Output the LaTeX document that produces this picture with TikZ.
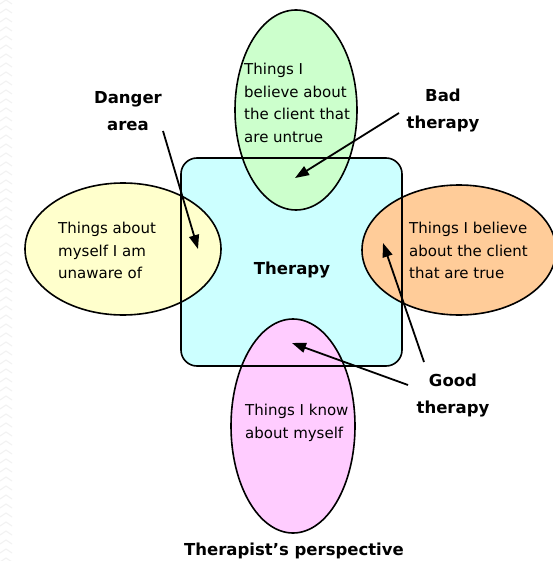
\documentclass[tikz,border=0pt]{standalone}
\usepackage{fontspec}
\setmainfont{DejaVu Sans}
\usetikzlibrary{shapes.geometric,arrows.meta}
\definecolor{boxcyan}{HTML}{CCFFFF}
\definecolor{ovgreen}{HTML}{CCFFCC}
\definecolor{ovyellow}{HTML}{FFFFCC}
\definecolor{ovorange}{HTML}{FFCC99}
\definecolor{ovpink}{HTML}{FFCCFF}
\begin{document}
\begin{tikzpicture}[x=1pt,y=-1pt,
  outline/.style={draw=black,line width=1.6pt},
  lbl/.style={font=\fontsize{15}{22.5}\selectfont,align=left,inner sep=0pt,anchor=north west},
  hdr/.style={font=\fontsize{16.5}{27}\selectfont\bfseries,align=center,inner sep=0pt},
  pointer/.style={line width=1.8pt,-{Triangle[length=14pt,width=10pt]}}]
\useasboundingbox (0,0) rectangle (552,561);
\fill[white] (0,0) rectangle (552,561);
% faint zigzag at left edge
\foreach \k in {0,...,62} {
  \draw[black!5,line width=1pt] (0,{9*\k+4}) -- (6,{9*\k}) -- (12,{9*\k+4});
}
% fills
\fill[boxcyan,rounded corners=16pt] (181,158) rectangle (402,366);
\fill[ovgreen] (296,110) ellipse [x radius=61pt, y radius=100pt];
\fill[ovyellow] (123,249) ellipse [x radius=98pt, y radius=66pt];
\fill[ovorange] (459,250) ellipse [x radius=97pt, y radius=65pt];
\fill[ovpink] (293,426) ellipse [x radius=62pt, y radius=107pt];
% outlines
\draw[outline,rounded corners=16pt] (181,158) rectangle (402,366);
\draw[outline] (296,110) ellipse [x radius=61pt, y radius=100pt];
\draw[outline] (123,249) ellipse [x radius=98pt, y radius=66pt];
\draw[outline] (459,250) ellipse [x radius=97pt, y radius=65pt];
\draw[outline] (293,426) ellipse [x radius=62pt, y radius=107pt];
% texts in ovals
\node[lbl] (untrue) at (244,63) {Things I\\believe about\\the client that\\are untrue};
\node[lbl] (unaware) at (58,222) {Things about\\myself I am\\unaware of};
\node[lbl] (truebel) at (409,222) {Things I believe\\about the client\\that are true};
\node[lbl] (know) at (245,404) {Things I know\\about myself};
% bold labels
\node[hdr,anchor=north] (danger) at (128,91) {Danger\\area};
\node[hdr,anchor=north] (bad) at (443,89) {Bad\\therapy};
\node[hdr,anchor=north] (good) at (453,374) {Good\\therapy};
\node[hdr,anchor=base] (therapy) at (292,274) {Therapy};
\node[hdr,anchor=base] (title) at (294,555) {Therapist's perspective};
% arrows
\coordinate (dangerS) at (163,131);
\coordinate (dangerT) at (198,249);
\coordinate (badS) at (399,113);
\coordinate (badT) at (295,178);
\coordinate (goodSa) at (424,362);
\coordinate (goodTa) at (383,243);
\coordinate (goodSb) at (408,385);
\coordinate (goodTb) at (292,343);
\draw[pointer] (dangerS) -- (dangerT);
\draw[pointer] (badS) -- (badT);
\draw[pointer] (goodSa) -- (goodTa);
\draw[pointer] (goodSb) -- (goodTb);
\end{tikzpicture}
\end{document}
